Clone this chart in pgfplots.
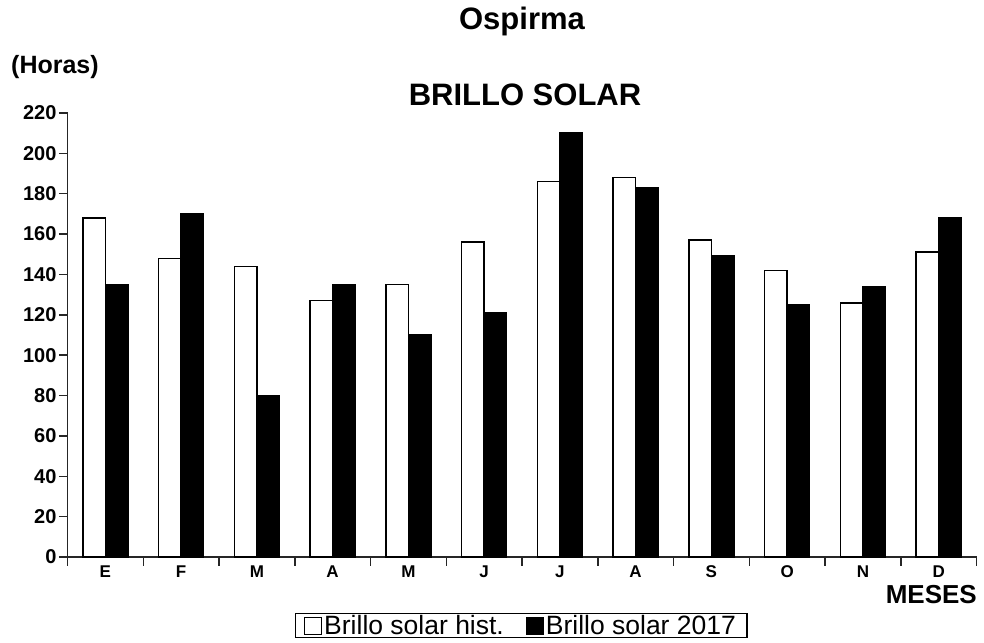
\documentclass[border=0pt]{standalone}
\usepackage{fontspec}
\setmainfont{Liberation Sans}
\usepackage{pgfplots}
\pgfplotsset{compat=1.18}
\begin{document}
\begin{tikzpicture}[x=1pt,y=1pt]
\useasboundingbox (0,0) rectangle (984,-642);
\begin{axis}[
  at={(67.5pt,-557pt)}, anchor=south west,
  scale only axis, width=909pt, height=444pt,
  ybar=0pt, bar width=22.5pt,
  ymin=0, ymax=220, ytick={0,20,...,220},
  xmin=-0.5, xmax=11.5,
  xtick={-0.5,0.5,...,11.5}, xticklabels={},
  extra x ticks={0,1,...,11},
  extra x tick labels={E,F,M,A,M,J,J,A,S,O,N,D},
  extra x tick style={major tick length=0pt},
  axis x line*=bottom, axis y line*=left,
  axis line style={-, line width=1.8pt, black!85},
  tick align=outside,
  major tick length=8.5pt,
  tick style={line width=1.5pt, black!85},
  /pgf/number format/assume math mode=true,
  yticklabel style={font=\bfseries\fontsize{20}{20}\selectfont, xshift=1pt},
  xticklabel style={font=\bfseries\fontsize{17}{17}\selectfont, yshift=-5pt},
  legend columns=2,
  legend style={at={(0.499,-0.1543)}, anchor=center, draw=black, line width=1.2pt,
    font=\fontsize{26.5}{26.5}\selectfont, inner xsep=9pt, inner ysep=0pt,
    /tikz/every even column/.append style={column sep=20pt}},
  sq legend/.style={legend image code/.code={\draw[##1,line width=1pt] (0pt,-8.5pt) rectangle (17pt,8.5pt);}},
]
\addplot[fill=white, draw=black, line width=1.6pt, sq legend] coordinates {
(0,168) (1,148) (2,144) (3,127) (4,135) (5,156) (6,186) (7,188) (8,157) (9,142) (10,126) (11,151)};
\addplot[fill=black, draw=black, line width=1.6pt, sq legend] coordinates {
(0,135) (1,170) (2,80) (3,135) (4,110) (5,121) (6,210) (7,183) (8,149) (9,125) (10,134) (11,168)};
\legend{Brillo solar hist., Brillo solar 2017}
\end{axis}
\node[anchor=base, font=\bfseries\fontsize{31}{31}\selectfont] at (522,-30) {Ospirma};
\node[anchor=base west, font=\bfseries\fontsize{25}{25}\selectfont, inner sep=0pt] at (11,-73) {(Horas)};
\node[anchor=base, font=\bfseries\fontsize{31}{31}\selectfont] at (525,-105) {BRILLO SOLAR};
\node[anchor=base east, font=\bfseries\fontsize{26}{26}\selectfont, inner sep=0pt] at (977,-603) {MESES};
\end{tikzpicture}
\end{document}
